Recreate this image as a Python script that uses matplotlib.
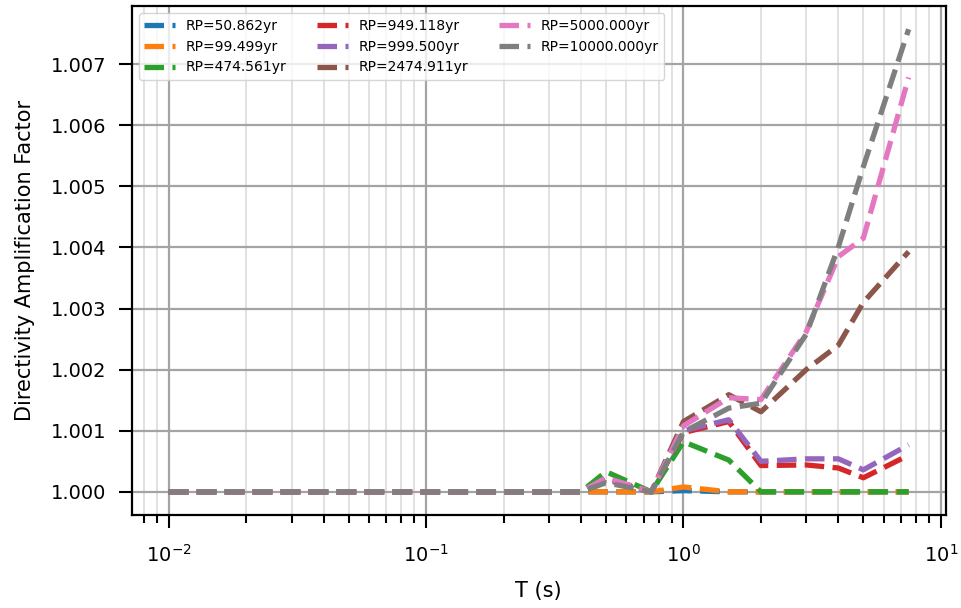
import numpy as np
import matplotlib
matplotlib.use("Agg")
import matplotlib.pyplot as plt
from matplotlib.ticker import FormatStrFormatter, LogLocator

# periods (s)
periods = [0.01, 0.02, 0.03, 0.05, 0.075, 0.1, 0.15, 0.2, 0.25, 0.3, 0.4,
           0.5, 0.75, 1.0, 1.5, 2.0, 3.0, 4.0, 5.0, 7.5]

# return periods (yr)
return_periods = [50.862, 99.499, 474.561, 949.118, 999.500, 2474.911, 5000.000, 10000.000]

# amplification factors, first 11 periods (0.01 - 0.4 s) are all 1.0
flat = [1.0] * 11
rp_50 = flat + [1.0, 1.0, 1.00002, 1.0, 1.0, 1.0, 1.0, 1.0, 1.0]
rp_99 = flat + [1.0, 1.0, 1.00008, 1.0, 1.0, 1.0, 1.0, 1.0, 1.0]
rp_474 = flat + [1.00033, 1.0, 1.00082, 1.00052, 1.0, 1.0, 1.0, 1.0, 1.0]
rp_949 = flat + [1.0002, 1.0, 1.00097, 1.00115, 1.00043, 1.00044, 1.00039, 1.00023, 1.0006]
rp_999 = flat + [1.0002, 1.0, 1.001, 1.00118, 1.0005, 1.00054, 1.00054, 1.00036, 1.00077]
rp_2474 = flat + [1.00022, 1.0, 1.00115, 1.00159, 1.00131, 1.002, 1.0024, 1.0031, 1.00393]
rp_5000 = flat + [1.00023, 1.0, 1.00108, 1.00154, 1.00151, 1.00262, 1.00385, 1.00415, 1.00678]
rp_10000 = flat + [1.00015, 1.0, 1.00098, 1.00137, 1.00145, 1.00258, 1.00401, 1.00532, 1.00757]

series = [rp_50, rp_99, rp_474, rp_949, rp_999, rp_2474, rp_5000, rp_10000]
colors = ['tab:blue', 'tab:orange', 'tab:green', 'tab:red',
          'tab:purple', 'tab:brown', 'tab:pink', 'tab:gray']

fig, ax = plt.subplots(figsize=(9.62, 6.08), dpi=100)
fig.subplots_adjust(left=0.137, right=0.983, top=0.990, bottom=0.153)

for rp, vals, c in zip(return_periods, series, colors):
    ax.plot(periods, vals, '--', color=c, lw=3.8, label='RP=%.3fyr' % rp)

ax.set_xscale('log')
ax.xaxis.set_minor_locator(LogLocator(base=10, subs=np.arange(2, 10)))
ax.yaxis.set_major_formatter(FormatStrFormatter('%.3f'))
ax.set_yticks([1.000, 1.001, 1.002, 1.003, 1.004, 1.005, 1.006, 1.007])

ax.grid(which='major', color='#a4a4a4', lw=1.6)
ax.grid(which='minor', axis='x', color='#dcdcdc', lw=1.2)
ax.set_axisbelow(True)

ax.tick_params(which='major', length=9.5, width=1.5, labelsize=14)
ax.tick_params(which='minor', length=5.5, width=1.5)
ax.tick_params(axis='y', which='major', pad=9)
ax.tick_params(axis='x', which='major', pad=11)
for s in ax.spines.values():
    s.set_linewidth(1.6)

ax.set_xlabel('T (s)', fontsize=15, labelpad=11)
ax.set_ylabel('Directivity Amplification Factor', fontsize=15, labelpad=11)

ax.legend(loc='upper left', ncol=3, fontsize=10, handlelength=2.2,
          columnspacing=2.2, borderaxespad=0.5)

fig.savefig('out.png', dpi=100)
